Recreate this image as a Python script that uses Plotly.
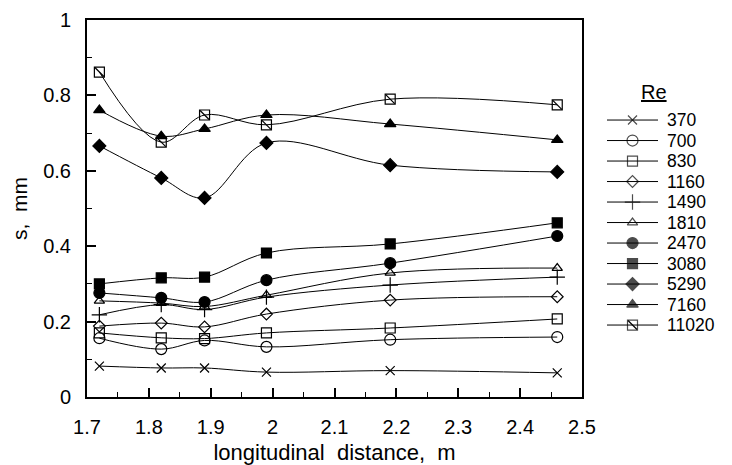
import plotly.graph_objects as go

x = [1.72, 1.82, 1.89, 1.99, 2.19, 2.46]

re_labels = ["370", "700", "830", "1160", "1490", "1810", "2470", "3080", "5290", "7160", "11020"]

s_370 = [0.082, 0.077, 0.077, 0.066, 0.070, 0.064]
s_700 = [0.156, 0.127, 0.150, 0.133, 0.152, 0.159]
s_830 = [0.170, 0.157, 0.155, 0.170, 0.183, 0.207]
s_1160 = [0.188, 0.196, 0.186, 0.220, 0.257, 0.266]
s_1490 = [0.218, 0.245, 0.232, 0.265, 0.297, 0.318]
s_1810 = [0.255, 0.249, 0.240, 0.270, 0.329, 0.342]
s_2470 = [0.276, 0.263, 0.252, 0.310, 0.355, 0.427]
s_3080 = [0.300, 0.316, 0.318, 0.382, 0.406, 0.462]
s_5290 = [0.666, 0.581, 0.528, 0.674, 0.615, 0.597]
s_7160 = [0.761, 0.692, 0.711, 0.748, 0.724, 0.682]
s_11020 = [0.862, 0.676, 0.748, 0.722, 0.790, 0.775]

x_ticks = [1.7, 1.8, 1.9, 2.0, 2.1, 2.2, 2.3, 2.4, 2.5]
x_tick_labels = ["1.7", "1.8", "1.9", "2", "2.1", "2.2", "2.3", "2.4", "2.5"]
y_ticks = [0, 0.2, 0.4, 0.6, 0.8, 1.0]
y_tick_labels = ["0", "0.2", "0.4", "0.6", "0.8", "1"]

series = [s_370, s_700, s_830, s_1160, s_1490, s_1810, s_2470, s_3080, s_5290, s_7160, s_11020]
symbols = ["x-thin-open", "circle-open", "square-open", "diamond-open", "cross-thin-open",
           "triangle-up-open", "circle", "square", "diamond", "triangle-up", "square-open"]
sizes = [9, 11, 10, 9, 11, 9, 11, 10, 10, 10, 10]

font = "Liberation Sans, Arial, sans-serif"
W, H = 724, 457
L, R, T, B = 79, 0, 12, 68
plot_w = 495

fig = go.Figure()
for lab, ys, sym, sz in zip(re_labels, series, symbols, sizes):
    fig.add_trace(go.Scatter(
        x=x, y=ys, name=lab, mode="lines+markers", showlegend=False,
        line=dict(color="black", width=1, shape="spline", smoothing=1),
        marker=dict(symbol=sym, size=sz, color="black", line=dict(color="black", width=1.2)),
    ))

# diagonal hatch inside the 11020 squares
fig.add_trace(go.Scatter(
    x=x, y=s_11020, mode="markers", showlegend=False, hoverinfo="skip",
    marker=dict(symbol="line-nw-open", size=9, color="black", line=dict(color="black", width=1.2)),
))

# key (legend) drawn on its own axes in the right-hand area
annotations = [dict(text="<u>Re</u>", x=0.62, y=-1.35, xref="x2", yref="y2",
                    showarrow=False, xanchor="left", yanchor="middle",
                    font=dict(size=20, family=font))]
for i, (lab, sym, sz) in enumerate(zip(re_labels, symbols, sizes)):
    fig.add_trace(go.Scatter(
        x=[0, 0.5, 1], y=[i, i, i], mode="lines+markers", showlegend=False,
        xaxis="x2", yaxis="y2", hoverinfo="skip", cliponaxis=False,
        line=dict(color="black", width=1),
        marker=dict(symbol=sym, size=[0, sz, 0], color="black",
                    line=dict(color="black", width=[0, 1.2, 0])),
    ))
    if lab == "11020":
        fig.add_trace(go.Scatter(
            x=[0.5], y=[i], mode="markers", showlegend=False, xaxis="x2", yaxis="y2",
            hoverinfo="skip", cliponaxis=False,
            marker=dict(symbol="line-nw-open", size=9, color="black",
                        line=dict(color="black", width=1.2)),
        ))
    annotations.append(dict(text=lab, x=1, y=i, xref="x2", yref="y2", xshift=8,
                            showarrow=False, xanchor="left", yanchor="middle",
                            font=dict(size=17.5, family=font), borderpad=0))

span = W - L - R
fig.update_layout(
    width=W, height=H,
    margin=dict(l=L, r=R, t=T, b=B, autoexpand=False),
    plot_bgcolor="white", paper_bgcolor="white",
    font=dict(family=font, color="black", size=20),
    showlegend=False,
    xaxis2=dict(domain=[(607 - 8 - L) / span, (658 - 8 - L) / span], range=[0, 1],
                visible=False, anchor="y2"),
    yaxis2=dict(domain=[0, 1], range=[13.51, -4.88], visible=False, anchor="x2"),
    annotations=annotations,
)
fig.update_layout(xaxis=dict(
    domain=[0, plot_w / span],
    range=[1.7, 2.5], tickmode="array", tickvals=x_ticks, ticktext=x_tick_labels, tickangle=0,
    ticks="inside", ticklen=9, tickwidth=1.5, tickcolor="black", ticklabelstandoff=11,
    minor=dict(dtick=0.05, ticks="inside", ticklen=5, tickcolor="black", tickwidth=1.2),
    showline=True, linecolor="black", linewidth=2, mirror=True,
    showgrid=False, zeroline=False, automargin=False,
    tickfont=dict(size=20, family=font),
    title=dict(text="longitudinal\u00a0 distance,\u00a0 m", font=dict(size=22, family=font), standoff=8),
))
fig.update_layout(yaxis=dict(
    range=[0, 1], tickmode="array", tickvals=y_ticks, ticktext=y_tick_labels,
    ticks="inside", ticklen=9, tickwidth=1.5, tickcolor="black", ticklabelstandoff=10,
    minor=dict(dtick=0.1, ticks="inside", ticklen=5, tickcolor="black", tickwidth=1.2),
    showline=True, linecolor="black", linewidth=2, mirror=True,
    showgrid=False, zeroline=False, automargin=False,
    tickfont=dict(size=20, family=font),
    title=dict(text="s,\u00a0 mm", font=dict(size=21, family=font), standoff=24),
))

fig.write_html("out.html")
